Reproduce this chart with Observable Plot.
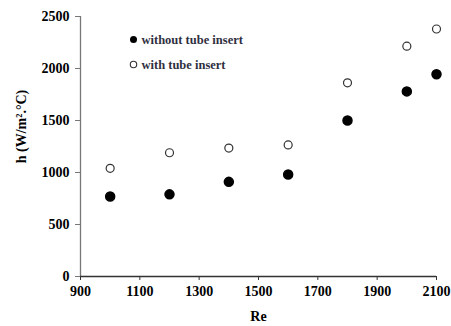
<!DOCTYPE html>
<html><head><meta charset="utf-8">
<script src="https://cdn.jsdelivr.net/npm/d3@7"></script>
<script src="https://cdn.jsdelivr.net/npm/@observablehq/plot@0.6"></script>
<style>
body{margin:0;background:#fff;}
svg{font-family:"Liberation Serif","Times New Roman",serif;}
</style>
</head><body><div id="chart"></div>
<script>
const re = [1000, 1200, 1400, 1600, 1800, 2000, 2100];
const hWithout = [770, 790, 910, 980, 1500, 1780, 1945];
const hWith = [1040, 1190, 1235, 1265, 1862, 2215, 2380];
const xTicks = [900, 1100, 1300, 1500, 1700, 1900, 2100];
const yTicks = [0, 500, 1000, 1500, 2000, 2500];
const seriesNames = ["without tube insert", "with tube insert"];

const dWithout = re.map((x, i) => ({x, y: hWithout[i]}));
const dWith = re.map((x, i) => ({x, y: hWith[i]}));

const chart = Plot.plot({
  width: 451, height: 326,
  marginLeft: 80, marginRight: 15, marginTop: 16, marginBottom: 50,
  x: {domain: [900, 2100]},
  y: {domain: [0, 2500]},
  style: {fontFamily: '"Liberation Serif","Times New Roman",serif', background: "#fff"},
  marks: [
    Plot.axisY({ticks: yTicks, tickFormat: d => String(d), tickSize: 5, tickPadding: 6, fontSize: 14, fontWeight: "bold", stroke: "#777",
      label: "h (W/m².°C)", labelAnchor: "center", labelArrow: "none", labelOffset: 64, color: "#000"}),
    Plot.axisX({ticks: xTicks, tickFormat: d => String(d), tickSize: 4, tickPadding: 6, fontSize: 14, fontWeight: "bold", stroke: "#333",
      label: "Re", labelAnchor: "center", labelArrow: "none", labelOffset: 44, color: "#000"}),
    Plot.ruleX([900], {stroke: "#777", strokeWidth: 1.3}),
    Plot.ruleY([0], {stroke: "#333", strokeWidth: 1.3}),
    Plot.dot(dWithout, {x: "x", y: "y", r: 4.5, fill: "#000", stroke: "#000"}),
    Plot.dot(dWith, {x: "x", y: "y", r: 4, fill: "#fff", stroke: "#333", strokeWidth: 1.2}),
    Plot.dot([seriesNames[0]], {frameAnchor: "top-left", dx: 53, dy: 23, r: 3.5, fill: "#000"}),
    Plot.dot([seriesNames[1]], {frameAnchor: "top-left", dx: 53, dy: 48, r: 3.2, fill: "#fff", stroke: "#333", strokeWidth: 1.1}),
    Plot.text([seriesNames[0]], {text: d => d, frameAnchor: "top-left", lineAnchor: "middle", dx: 61, dy: 23, textAnchor: "start", fontSize: 12.5, fontWeight: "bold", fill: "#2f2f3f"}),
    Plot.text([seriesNames[1]], {text: d => d, frameAnchor: "top-left", lineAnchor: "middle", dx: 61, dy: 48, textAnchor: "start", fontSize: 12.5, fontWeight: "bold", fill: "#2f2f3f"})
  ]
});
document.getElementById("chart").append(chart);
chart.querySelectorAll('[aria-label="y-axis label"] text, [aria-label="x-axis label"] text').forEach(t => {
  t.setAttribute("font-weight", "bold");
  t.setAttribute("font-size", "14");
});
chart.querySelectorAll('[aria-label="y-axis label"] text').forEach(t => t.setAttribute("dx", "20"));
</script>
</body></html>
